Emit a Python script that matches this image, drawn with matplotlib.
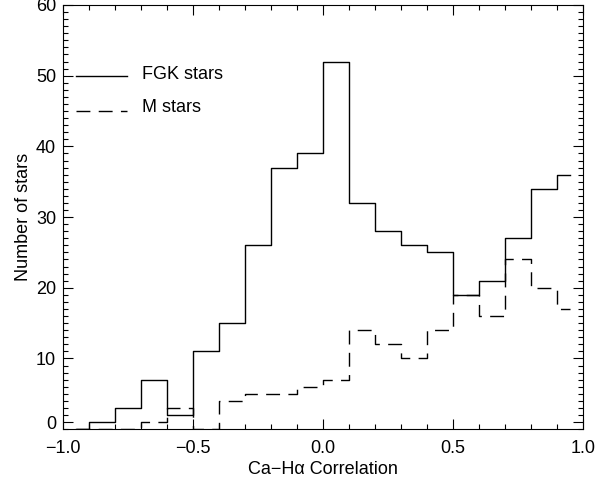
import matplotlib.pyplot as plt
import numpy as np

plt.rcParams['font.family'] = ['Liberation Sans', 'DejaVu Sans']

# bin centres of the correlation histogram (0.1 wide bins)
bin_centers = [-0.95, -0.85, -0.75, -0.65, -0.55, -0.45, -0.35, -0.25, -0.15, -0.05,
               0.05, 0.15, 0.25, 0.35, 0.45, 0.55, 0.65, 0.75, 0.85, 0.95]
fgk_counts = [0, 1, 3, 7, 2, 11, 15, 26, 37, 39,
              52, 32, 28, 26, 25, 19, 21, 27, 34, 36]
m_counts = [0, 0, 0, 1, 3, 0, 4, 5, 5, 6,
            7, 14, 12, 10, 14, 19, 16, 24, 20, 17]

fig = plt.figure(figsize=(5.96, 4.8), dpi=100)
ax = fig.add_axes([0.1057, 0.106, 0.8725, 0.8836])

ax.step(bin_centers, fgk_counts, where='mid', color='k', lw=1.0)
ax.step(bin_centers, m_counts, where='mid', color='k', lw=1.0, dashes=(10, 6))

ax.set_xlim(-1.0, 1.0)
ax.set_ylim(0, 60)

ax.set_xticks([-1.0, -0.5, 0.0, 0.5, 1.0])
ax.set_xticklabels(['\u22121.0', '\u22120.5', '0.0', '0.5', '1.0'])
ax.set_xticks(np.arange(-1.0, 1.01, 0.1), minor=True)
ax.set_yticks([1, 10, 20, 30, 40, 50, 60])
ax.set_yticklabels(['0', '10', '20', '30', '40', '50', '60'])
ax.set_yticks(np.arange(0, 61, 1), minor=True)

ax.tick_params(which='both', direction='in', top=True, right=True, labelsize=13, width=0.8)
ax.tick_params(which='major', length=7.5)
ax.tick_params(which='minor', length=3.8)
ax.tick_params(axis='x', which='major', pad=8)
ax.tick_params(axis='y', which='major', pad=5)
for s in ax.spines.values():
    s.set_linewidth(0.8)

ax.set_xlabel('Ca\u2212H\u03b1 Correlation', fontsize=13, labelpad=3)
ax.set_ylabel('Number of stars', fontsize=13, labelpad=3)

# legend drawn by hand like the original
ax.plot([-0.95, -0.755], [50, 50], color='k', lw=1.0)
ax.plot([-0.95, -0.755], [45, 45], color='k', lw=1.0, dashes=(10, 6))
ax.text(-0.695, 50.1, 'FGK stars', fontsize=13, va='center', ha='left')
ax.text(-0.695, 45.5, 'M stars', fontsize=13, va='center', ha='left')

fig.savefig('out.png', dpi=100)
